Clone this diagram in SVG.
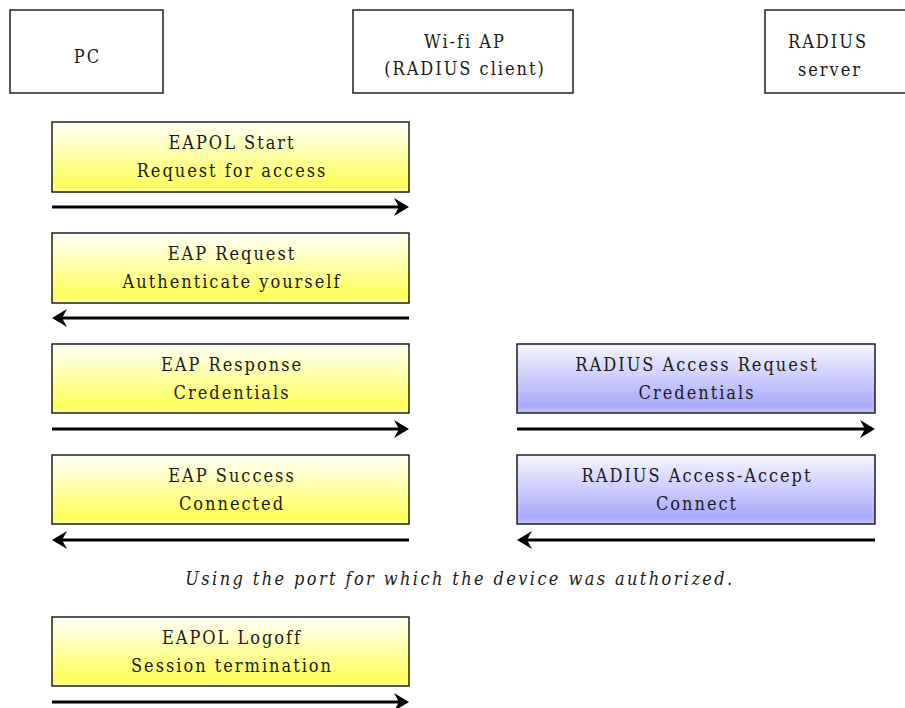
<svg xmlns="http://www.w3.org/2000/svg" width="905" height="708" viewBox="0 0 905 708">
  <defs>
    <linearGradient id="gYellow" x1="0" y1="0" x2="0" y2="1">
      <stop offset="0" stop-color="#fffff8"/>
      <stop offset="0.9" stop-color="#ffff5c"/>
      <stop offset="1" stop-color="#ffff9c"/>
    </linearGradient>
    <linearGradient id="gBlue" x1="0" y1="0" x2="0" y2="1">
      <stop offset="0" stop-color="#f6f6ff"/>
      <stop offset="0.9" stop-color="#a9a9fb"/>
      <stop offset="1" stop-color="#c4c4ff"/>
    </linearGradient>
    <marker id="head" viewBox="-16 -10 17 20" markerWidth="17" markerHeight="20" refX="-10" refY="0" orient="auto" markerUnits="userSpaceOnUse">
      <path d="M0,0 L-15,-9 L-10,0 L-15,9 Z" fill="#000"/>
    </marker>
  </defs>
  <style>
    .party { fill: #fff; stroke: #111; stroke-width: 1.4; }
    .msgY { fill: url(#gYellow); stroke: #111; stroke-width: 1.4; }
    .msgB { fill: url(#gBlue); stroke: #111; stroke-width: 1.4; }
    .lbl { font-family: 'DejaVu Serif Condensed', 'DejaVu Serif', serif; font-stretch: condensed; font-size: 18px; fill: #1a1a1a; text-anchor: middle; letter-spacing: 2px; }
    .note { font-style: italic; letter-spacing: 2.4px; }
    .arrow { stroke: #000; stroke-width: 3; fill: none; marker-end: url(#head); }
  </style>

  <!-- participants -->
  <g id="pc">
    <rect class="party" x="10" y="10" width="153" height="83"/>
    <text class="lbl" x="87.5" y="63">PC</text>
  </g>
  <g id="wifi-ap">
    <rect class="party" x="353" y="10" width="220" height="83"/>
    <text class="lbl" x="465" y="48">Wi-fi AP</text>
    <text class="lbl" x="465" y="75">(RADIUS client)</text>
  </g>
  <g id="radius-server">
    <rect class="party" x="765" y="10" width="145" height="83"/>
    <text class="lbl" x="828" y="48">RADIUS</text>
    <text class="lbl" x="830" y="76">server</text>
  </g>

  <!-- messages between PC and AP -->
  <g id="eapol-start">
    <rect class="msgY" x="52" y="122" width="357" height="70"/>
    <text class="lbl" x="232" y="149">EAPOL Start</text>
    <text class="lbl" x="232" y="177">Request for access</text>
  </g>
  <g id="eap-request">
    <rect class="msgY" x="52" y="233" width="357" height="70"/>
    <text class="lbl" x="232" y="260">EAP Request</text>
    <text class="lbl" x="232" y="288">Authenticate yourself</text>
  </g>
  <g id="eap-response">
    <rect class="msgY" x="52" y="344" width="357" height="69"/>
    <text class="lbl" x="232" y="371">EAP Response</text>
    <text class="lbl" x="232" y="399">Credentials</text>
  </g>
  <g id="eap-success">
    <rect class="msgY" x="52" y="455" width="357" height="69"/>
    <text class="lbl" x="232" y="482">EAP Success</text>
    <text class="lbl" x="232" y="510">Connected</text>
  </g>
  <g id="eapol-logoff">
    <rect class="msgY" x="52" y="617" width="357" height="69"/>
    <text class="lbl" x="232" y="644">EAPOL Logoff</text>
    <text class="lbl" x="232" y="672">Session termination</text>
  </g>

  <!-- messages between AP and RADIUS server -->
  <g id="radius-access-request">
    <rect class="msgB" x="517" y="344" width="358" height="69"/>
    <text class="lbl" x="697" y="371">RADIUS Access Request</text>
    <text class="lbl" x="697" y="399">Credentials</text>
  </g>
  <g id="radius-access-accept">
    <rect class="msgB" x="517" y="455" width="358" height="69"/>
    <text class="lbl" x="697" y="482">RADIUS Access-Accept</text>
    <text class="lbl" x="697" y="510">Connect</text>
  </g>

  <g id="note">
    <text class="lbl note" x="460" y="585">Using the port for which the device was authorized.</text>
  </g>

  <!-- connectors -->
  <g id="connectors">
    <line class="arrow" x1="52" y1="207" x2="399" y2="207"/>
    <line class="arrow" x1="409" y1="318" x2="62" y2="318"/>
    <line class="arrow" x1="52" y1="429" x2="399" y2="429"/>
    <line class="arrow" x1="409" y1="540" x2="62" y2="540"/>
    <line class="arrow" x1="517" y1="429" x2="865" y2="429"/>
    <line class="arrow" x1="875" y1="540" x2="527" y2="540"/>
    <line class="arrow" x1="52" y1="702" x2="399" y2="702"/>
  </g>
</svg>
